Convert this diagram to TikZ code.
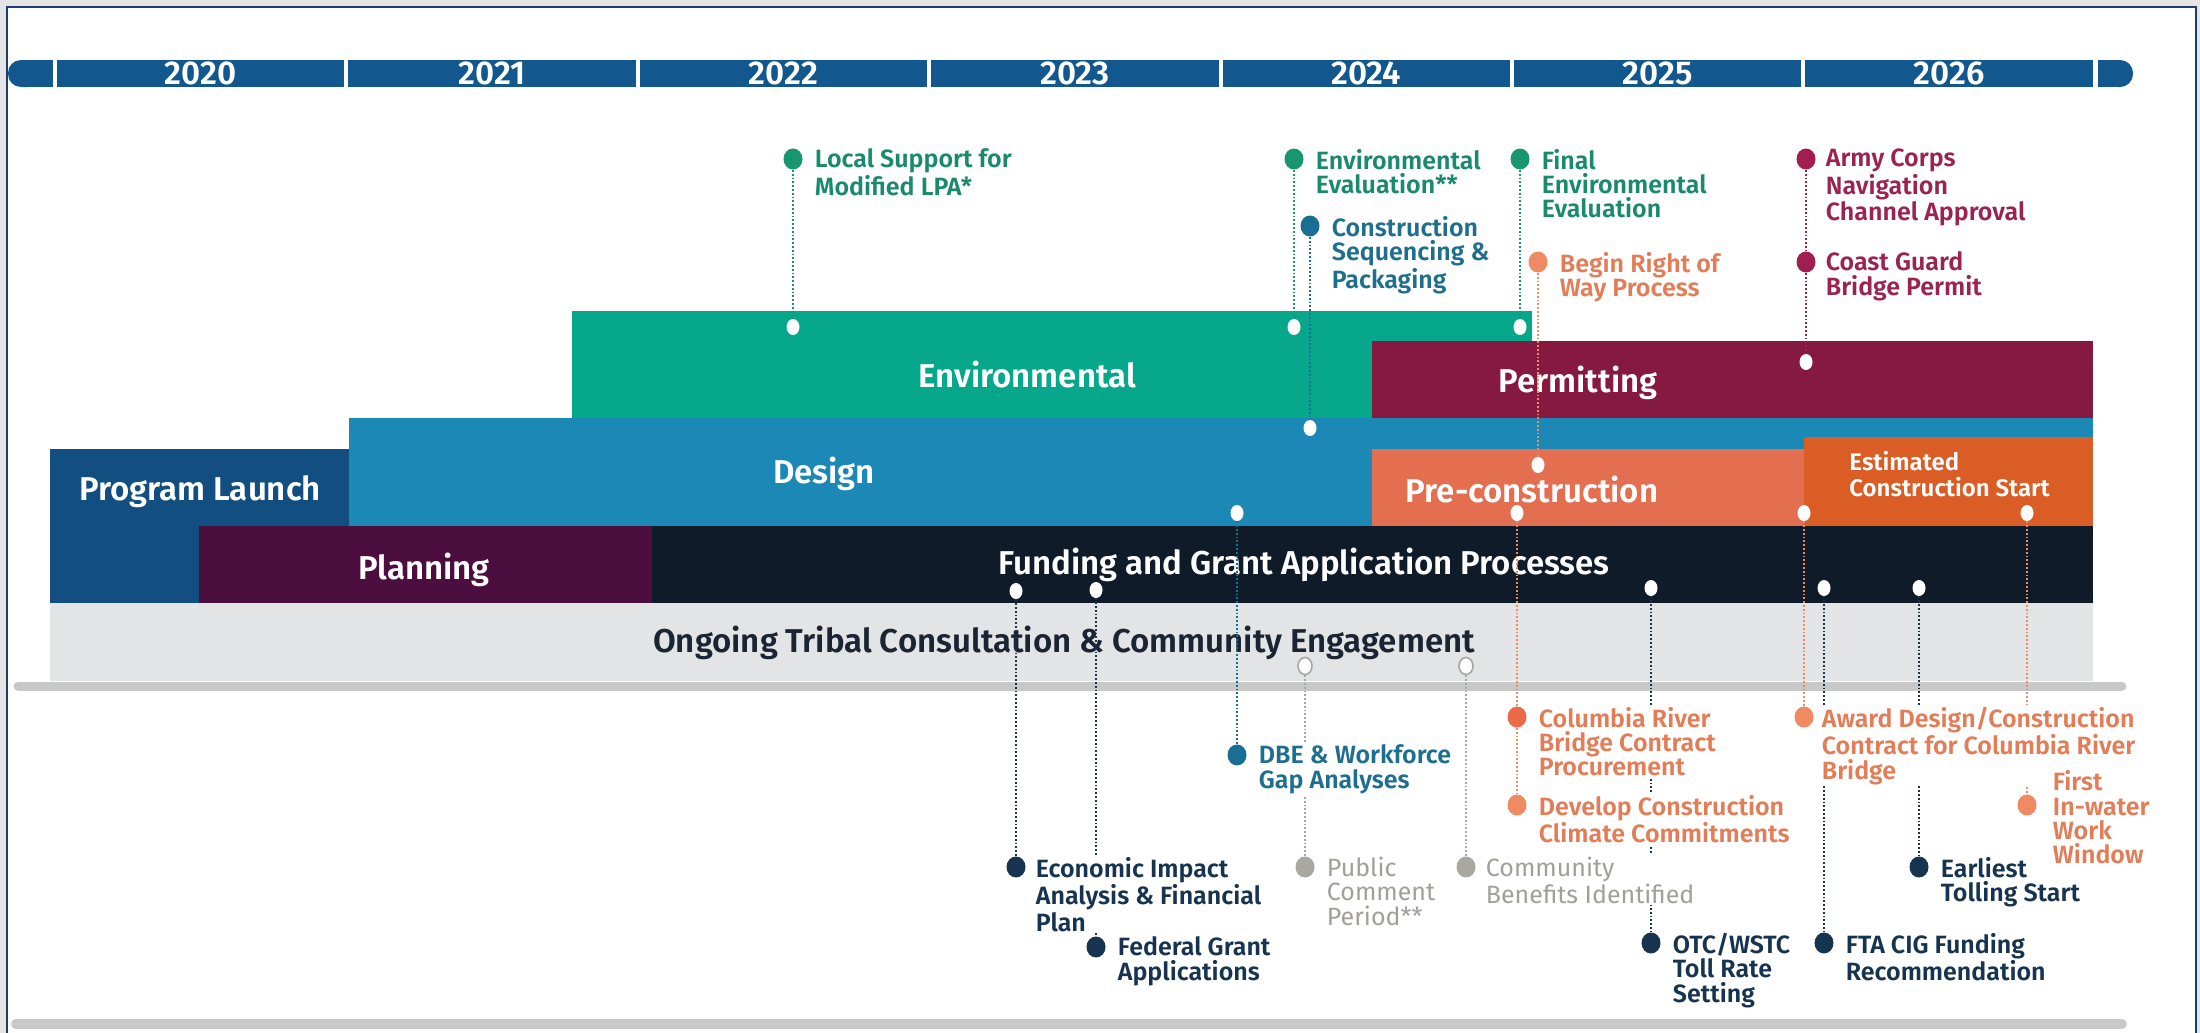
\documentclass[tikz,border=0pt]{standalone}
\usepackage{fontspec}
\setmainfont{Fira Sans}[BoldFont={Fira Sans SemiBold}]
\usetikzlibrary{shapes.geometric,positioning}

\definecolor{framegray}{HTML}{E5E5E5}
\definecolor{framenavy}{HTML}{1E3C6E}
\definecolor{yearblue}{HTML}{12578E}
\definecolor{envgreen}{HTML}{07A78B}
\definecolor{permred}{HTML}{86193F}
\definecolor{designblue}{HTML}{1C88B6}
\definecolor{preorange}{HTML}{E46F50}
\definecolor{estorange}{HTML}{DA5D26}
\definecolor{launchblue}{HTML}{124F80}
\definecolor{planplum}{HTML}{4B0E3E}
\definecolor{fundnavy}{HTML}{101B29}
\definecolor{ongoinggray}{HTML}{E3E4E6}
\definecolor{rulegray}{HTML}{C8C8C8}
\definecolor{ongoingtxt}{HTML}{1B2433}
\definecolor{envtxt}{HTML}{1A8A6F}
\definecolor{envdot}{HTML}{17966F}
\definecolor{seqtxt}{HTML}{1E6E8E}
\definecolor{seqdot}{HTML}{1A6D93}
\definecolor{rowtxt}{HTML}{E27D57}
\definecolor{rowdot}{HTML}{F08A63}
\definecolor{crbdot}{HTML}{EC6A48}
\definecolor{permtxt}{HTML}{9B2352}
\definecolor{permdot}{HTML}{A01E50}
\definecolor{navytxt}{HTML}{16344F}
\definecolor{pubtxt}{HTML}{A09F99}
\definecolor{pubdot}{HTML}{A8A7A0}

\tikzset{
  yearbox/.style={fill=yearblue, text=white, minimum width=143.7pt, minimum height=13.5pt,
    inner sep=0pt, font=\fontsize{16.5}{16.5}\selectfont\bfseries},
  barlab/.style={text=white, inner sep=0pt, font=\fontsize{16.5}{17}\selectfont\bfseries},
  estlab/.style={text=white, inner sep=0pt, align=left, anchor=west,
    font=\fontsize{12}{13}\selectfont\bfseries},
  mdot/.style={ellipse, fill=#1, inner sep=0pt, minimum width=9.5pt, minimum height=10.5pt},
  wdot/.style={ellipse, fill=white, inner sep=0pt, minimum width=6.5pt, minimum height=8pt},
  hdot/.style={ellipse, fill=white, draw=pubdot, line width=0.8pt, inner sep=0pt,
    minimum width=7pt, minimum height=8.5pt},
  mlab/.style={text=#1, fill=white, inner sep=0.8pt, align=left, anchor=north west,
    font=\fontsize{12.5}{12.2}\selectfont\bfseries},
  leader/.style={draw=#1, line width=0.9pt, dash pattern=on 0.9pt off 1pt},
}

\begin{document}
\begin{tikzpicture}[x=0.5pt, y=-0.5pt]
  \useasboundingbox (0,0) rectangle (2200,1033);
  \fill[framegray] (0,0) rectangle (2200,1033);
  \filldraw[fill=white, draw=framenavy, line width=1.2pt] (7,7) rectangle (2196,1045);

  % years
  \fill[yearblue, rounded corners=6.5pt] (8,60) rectangle (40,87);
  \fill[yearblue] (25,60) rectangle (53,87);
  \fill[yearblue, rounded corners=6.5pt] (2105,60) rectangle (2133,87);
  \fill[yearblue] (2098,60) rectangle (2118,87);
  \foreach \yr [count=\i from 0] in {2020,...,2026}
    \node[yearbox] (y\yr) at ({200.7+291.4*\i},73.5) {\yr};

  % phases
  \fill[envgreen] (572,311) rectangle (1532,418);
  \fill[permred] (1372,341) rectangle (2093,418);
  \fill[designblue] (349,418) rectangle (2093,526);
  \fill[preorange] (1372,449) rectangle (1804,526);
  \fill[estorange] (1804,437) rectangle (2093,526);
  \fill[launchblue] (50,449) rectangle (349,603);
  \fill[planplum] (199,526) rectangle (652,603);
  \fill[fundnavy] (652,526) rectangle (2093,603);
  \fill[ongoinggray] (50,603) rectangle (2093,681);
  \draw[rulegray, line width=4.5pt, line cap=round] (18,686) -- (2122,686);
  \draw[rulegray, line width=5pt, line cap=round] (16,1024) -- (2122,1024);

  \node[barlab] (envL) at (1027,375) {Environmental};
  \node[barlab] (permL) at (1578,383) {Permitting};
  \node[barlab] (desL) at (824,474) {Design};
  \node[barlab] (launchL) at (200,492) {Program Launch};
  \node[barlab] (preL) at (1532,490) {Pre-construction};
  \node[estlab] (estL) at (1849,474) {Estimated\\Construction Start};
  \node[barlab] (planL) at (424,570) {Planning};
  \node[barlab] (fundL) at (1304,565) {Funding and Grant Application Processes};
  \node[barlab, text=ongoingtxt] (ongL) at (1064,643) {Ongoing Tribal Consultation \& Community Engagement};

  % milestones above
  \node[mdot=envdot] (dLPA) at (793,159) {};
  \node[wdot] (wLPA) at (793,327) {};
  \node[mdot=envdot] (dEnvEv) at (1294,159) {};
  \node[wdot] (wEnvEv) at (1294,327) {};
  \node[mdot=seqdot] (dSeq) at (1310,226) {};
  \node[wdot] (wSeq) at (1310,428) {};
  \node[mdot=envdot] (dFinal) at (1520,159) {};
  \node[wdot] (wFinal) at (1520,327) {};
  \node[mdot=rowdot] (dROW) at (1538,262) {};
  \node[wdot] (wROW) at (1538,465) {};
  \node[mdot=permdot] (dArmy) at (1806,159) {};
  \node[mdot=permdot] (dCoast) at (1806,262) {};
  \node[wdot] (wCoast) at (1806,362) {};

  % milestones below
  \node[wdot] (wEcon) at (1016,591) {};
  \node[mdot=navytxt] (dEcon) at (1016,867) {};
  \node[wdot] (wFed) at (1096,590) {};
  \node[mdot=navytxt] (dFed) at (1096,947) {};
  \node[wdot] (wDBE) at (1237,513) {};
  \node[mdot=seqdot] (dDBE) at (1237,755) {};
  \node[hdot] (hPub) at (1305,666) {};
  \node[mdot=pubdot] (dPub) at (1305,867) {};
  \node[hdot] (hComm) at (1466,666) {};
  \node[mdot=pubdot] (dComm) at (1466,867) {};
  \node[wdot] (wCRB) at (1517,513) {};
  \node[mdot=crbdot] (dCRB) at (1517,717) {};
  \node[mdot=rowdot] (dClim) at (1517,805) {};
  \node[wdot] (wOTC) at (1651,588) {};
  \node[mdot=navytxt] (dOTC) at (1651,943) {};
  \node[wdot] (wAward) at (1804,513) {};
  \node[mdot=rowdot] (dAward) at (1804,717) {};
  \node[wdot] (wFTA) at (1824,588) {};
  \node[mdot=navytxt] (dFTA) at (1824,943) {};
  \node[wdot] (wToll) at (1919,588) {};
  \node[mdot=navytxt] (dToll) at (1919,867) {};
  \node[wdot] (wWater) at (2027,513) {};
  \node[mdot=rowdot] (dWater) at (2027,805) {};

  % leaders
  \draw[leader=envdot] (dLPA) -- (wLPA);
  \draw[leader=envdot] (dEnvEv) -- (wEnvEv);
  \draw[leader=seqdot] (dSeq) -- (wSeq);
  \draw[leader=envdot] (dFinal) -- (wFinal);
  \draw[leader=rowdot] (dROW) -- (wROW);
  \draw[leader=permdot] (dArmy) -- (dCoast) -- (wCoast);
  \draw[leader=navytxt] (wEcon) -- (dEcon);
  \draw[leader=navytxt] (wFed) -- (dFed);
  \draw[leader=seqdot] (wDBE) -- (dDBE);
  \draw[leader=pubdot] (hPub) -- (dPub);
  \draw[leader=pubdot] (hComm) -- (dComm);
  \draw[leader=rowdot] (wCRB) -- (dCRB) -- (dClim);
  \draw[leader=navytxt] (wOTC) -- (dOTC);
  \draw[leader=rowdot] (wAward) -- (dAward);
  \draw[leader=navytxt] (wFTA) -- (dFTA);
  \draw[leader=navytxt] (wToll) -- (dToll);
  \draw[leader=rowdot] (wWater) -- (dWater);

  % labels
  \node[mlab=envtxt] (tLPA) at ([xshift=5pt,yshift=6pt]dLPA.east) {Local Support for\\Modified LPA*};
  \node[mlab=envtxt] (tEnvEv) at ([xshift=5pt,yshift=6pt]dEnvEv.east) {Environmental\\Evaluation**};
  \node[mlab=seqtxt] (tSeq) at ([xshift=5pt,yshift=6pt]dSeq.east) {Construction\\Sequencing \&\\Packaging};
  \node[mlab=envtxt] (tFinal) at ([xshift=5pt,yshift=6pt]dFinal.east) {Final\\Environmental\\Evaluation};
  \node[mlab=rowtxt] (tROW) at ([xshift=5pt,yshift=6pt]dROW.east) {Begin Right of\\Way Process};
  \node[mlab=permtxt] (tArmy) at ([xshift=4pt,yshift=6pt]dArmy.east) {Army Corps\\Navigation\\Channel Approval};
  \node[mlab=permtxt] (tCoast) at ([xshift=4pt,yshift=6pt]dCoast.east) {Coast Guard\\Bridge Permit};
  \node[mlab=navytxt] (tEcon) at ([xshift=4pt,yshift=6pt]dEcon.east) {Economic Impact\\Analysis \& Financial\\Plan};
  \node[mlab=navytxt] (tFed) at ([xshift=5pt,yshift=6pt]dFed.east) {Federal Grant\\Applications};
  \node[mlab=seqtxt] (tDBE) at ([xshift=5pt,yshift=6pt]dDBE.east) {DBE \& Workforce\\Gap Analyses};
  \node[mlab=pubtxt, font=\fontsize{12.5}{12.2}\selectfont] (tPub) at ([xshift=5pt,yshift=6pt]dPub.east) {Public\\Comment\\Period**};
  \node[mlab=pubtxt, font=\fontsize{12.5}{12.2}\selectfont] (tComm) at ([xshift=4pt,yshift=6pt]dComm.east) {Community\\Benefits Identified};
  \node[mlab=rowtxt] (tCRB) at ([xshift=5pt,yshift=6pt]dCRB.east) {Columbia River\\Bridge Contract\\Procurement};
  \node[mlab=rowtxt] (tClim) at ([xshift=5pt,yshift=6pt]dClim.east) {Develop Construction\\Climate Commitments};
  \node[mlab=navytxt] (tOTC) at ([xshift=5pt,yshift=6pt]dOTC.east) {OTC/WSTC\\Toll Rate\\Setting};
  \node[mlab=rowtxt] (tAward) at ([xshift=3pt,yshift=6pt]dAward.east) {Award Design/Construction\\Contract for Columbia River\\Bridge};
  \node[mlab=navytxt] (tFTA) at ([xshift=5pt,yshift=6pt]dFTA.east) {FTA CIG Funding\\Recommendation};
  \node[mlab=navytxt] (tToll) at ([xshift=5pt,yshift=6pt]dToll.east) {Earliest\\Tolling Start};
  \node[mlab=rowtxt] (tWater) at ([xshift=7pt,yshift=18.2pt]dWater.east) {First\\In-water\\Work\\Window};
\end{tikzpicture}
\end{document}
